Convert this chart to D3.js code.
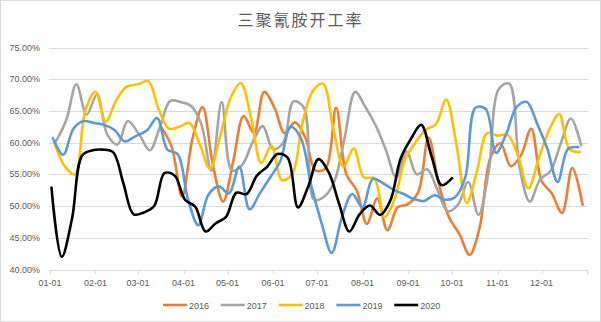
<!DOCTYPE html>
<html>
<head>
<meta charset="utf-8">
<script src="https://cdn.jsdelivr.net/npm/d3@7"></script>
<style>
body { margin: 0; background: #fff; }
svg { display: block; }
</style>
</head>
<body>
<script>
const years = ['2016', '2017', '2018', '2019', '2020'];
const colors = ['#ED7D31', '#A5A5A5', '#FFC000', '#5B9BD5', '#000000'];
// first weekly reading of each year
const firstDays = ['2016-03-17', '2017-01-05', '2018-01-04', '2019-01-03', '2020-01-02'];

// weekly operating rate, %
const v2016 = [62.4, 59.3, 51.5, 60.5, 65.6, 56.5, 50.7, 57.2, 64.2, 61.5, 68.0, 65.5, 61.5, 63.2, 60.8, 55.6, 56.0, 65.5, 55.0, 52.5,
    47.2, 51.2, 46.2, 49.8, 50.3, 52.2, 60.8, 53.5, 48.2, 45.6, 42.3, 46.8, 57.5, 59.9, 56.3, 58.0, 62.2, 54.0, 52.0, 48.9, 56.0, 50.2];
const v2017 = [60.2, 63.5, 69.2, 64.4, 67.6, 61.3, 59.7, 63.4, 61.2, 58.8, 62.5, 66.6, 66.4, 65.8, 63.0, 55.6, 66.4, 55.6, 56.5, 60.0,
    62.6, 59.0, 60.0, 66.5, 65.5, 51.0, 51.5, 54.0, 61.0, 68.0, 65.6, 62.7, 58.8, 54.5, 58.6, 55.0, 55.8, 52.6, 49.2, 50.2,
    53.8, 48.6, 55.5, 68.5, 69.3, 56.2, 50.7, 54.2, 55.5, 59.8, 63.8, 59.6];
const v2018 = [60.0, 56.3, 55.0, 65.0, 68.0, 63.3, 66.6, 68.8, 69.2, 69.7, 65.3, 62.2, 62.5, 63.1, 59.8, 55.9, 61.0, 67.0, 69.4, 64.0,
    56.8, 59.5, 54.1, 55.0, 63.0, 68.1, 69.3, 62.3, 56.2, 59.1, 54.5, 54.4, 48.3, 51.2, 57.4, 60.0, 62.0, 62.9, 66.8, 59.7,
    50.5, 55.5, 61.5, 61.1, 61.2, 57.9, 52.8, 57.4, 61.9, 64.5, 59.0, 58.5];
const v2019 = [60.7, 58.1, 62.2, 63.4, 63.1, 62.8, 62.0, 60.2, 61.0, 61.9, 63.9, 58.9, 58.2, 51.1, 47.0, 51.8, 53.1, 52.0, 56.2, 49.5,
    52.0, 54.5, 57.1, 62.5, 60.7, 53.3, 47.4, 42.6, 48.3, 51.9, 49.8, 54.3, 53.6, 52.6, 51.9, 51.1, 50.8, 51.7, 51.0, 51.4,
    54.5, 65.5, 65.3, 58.4, 61.4, 65.6, 66.4, 63.0, 59.0, 53.8, 59.0, 59.3];
const v2020 = [52.9, 42.0, 48.0, 58.0, 58.8, 58.9, 58.5, 53.6, 48.7, 49.0, 50.0, 55.2, 54.8, 51.0, 49.9, 46.0, 47.3, 48.3, 52.1, 51.9,
    54.8, 56.2, 58.2, 57.6, 49.8, 53.1, 57.4, 55.3, 50.4, 46.0, 48.7, 50.1, 48.6, 50.9, 57.5, 60.6, 62.8, 57.9, 53.3, 54.4];
const seriesValues = [v2016, v2017, v2018, v2019, v2020];

const yTicks = [0.40, 0.45, 0.50, 0.55, 0.60, 0.65, 0.70, 0.75];
const xLabels = ['01-01', '02-01', '03-01', '04-01', '05-01', '06-01', '07-01', '08-01', '09-01', '10-01', '11-01', '12-01'];
const title = '三聚氰胺开工率';

const width = 601, height = 322;
const svg = d3.select('body')
    .append('svg')
    .attr('width', width)
    .attr('height', height);

svg.append('rect')
    .attr('x', 0.5).attr('y', 0.5)
    .attr('width', width - 1).attr('height', height - 1)
    .attr('fill', '#fff')
    .attr('stroke', '#d9d9d9');

const parse = d3.timeParse('%Y-%m-%d');
const x = d3.scaleTime()
    .domain([new Date(2020, 0, 1), new Date(2021, 0, 1)])
    .range([50, 587]);
const y = d3.scaleLinear()
    .domain([0.40, 0.75])
    .range([269.5, 47.5]);

// every year is laid on the same month-day axis
function toAxis(d) {
    return new Date(2020, d.getMonth(), d.getDate());
}

const series = years.map((yr, k) => {
    const start = parse(firstDays[k]);
    return seriesValues[k].map((v, i) => ({
        date: toAxis(d3.timeDay.offset(start, 7 * i)),
        value: v / 100
    }));
});

// gridlines
svg.append('g')
    .selectAll('line')
    .data(yTicks)
    .enter()
    .append('line')
    .attr('x1', 49)
    .attr('x2', 588)
    .attr('y1', d => Math.round(y(d)) + 0.5)
    .attr('y2', d => Math.round(y(d)) + 0.5)
    .attr('stroke', '#d9d9d9')
    .attr('stroke-width', 1);

// y labels
svg.append('g')
    .selectAll('text')
    .data(yTicks)
    .enter()
    .append('text')
    .attr('x', 40)
    .attr('y', d => y(d) + 3)
    .attr('text-anchor', 'end')
    .attr('font-family', 'Liberation Sans, Arial, sans-serif')
    .attr('font-size', 9)
    .attr('fill', '#595959')
    .text(d3.format('.2%'));

// x axis ticks and labels
const months = d3.timeMonth.range(new Date(2020, 0, 1), new Date(2021, 0, 2));
svg.append('g')
    .selectAll('line')
    .data(months)
    .enter()
    .append('line')
    .attr('x1', d => Math.round(x(d)) + 0.5)
    .attr('x2', d => Math.round(x(d)) + 0.5)
    .attr('y1', 270)
    .attr('y2', 274)
    .attr('stroke', '#d9d9d9');

svg.append('g')
    .selectAll('text')
    .data(xLabels)
    .enter()
    .append('text')
    .attr('x', (d, i) => x(months[i]))
    .attr('y', 286)
    .attr('text-anchor', 'middle')
    .attr('font-family', 'Liberation Sans, Arial, sans-serif')
    .attr('font-size', 9)
    .attr('fill', '#595959')
    .text(d => d);

// lines
const line = d3.line()
    .x(d => x(d.date))
    .y(d => y(d.value))
    .curve(d3.curveCatmullRom.alpha(0.5));

svg.append('g')
    .selectAll('path')
    .data(series)
    .enter()
    .append('path')
    .attr('d', line)
    .attr('fill', 'none')
    .attr('stroke', (d, i) => colors[i])
    .attr('stroke-width', 2.6)
    .attr('stroke-linejoin', 'round')
    .attr('stroke-linecap', 'round');

// title
svg.append('text')
    .attr('x', width / 2)
    .attr('y', 26)
    .attr('text-anchor', 'middle')
    .attr('font-family', 'Noto Sans CJK SC, sans-serif')
    .attr('font-size', 16)
    .attr('letter-spacing', 2)
    .attr('fill', '#595959')
    .text(title);

// legend
const legend = svg.append('g')
    .selectAll('g')
    .data(years)
    .enter()
    .append('g')
    .attr('transform', (d, i) => `translate(${163 + i * 57.8},305)`);

legend.append('line')
    .attr('x1', 0)
    .attr('x2', 24)
    .attr('stroke', (d, i) => colors[i])
    .attr('stroke-width', 2.6);

legend.append('text')
    .attr('x', 26)
    .attr('y', 3.5)
    .attr('font-family', 'Liberation Sans, Arial, sans-serif')
    .attr('font-size', 9)
    .attr('fill', '#595959')
    .text(d => d);
</script>
</body>
</html>
